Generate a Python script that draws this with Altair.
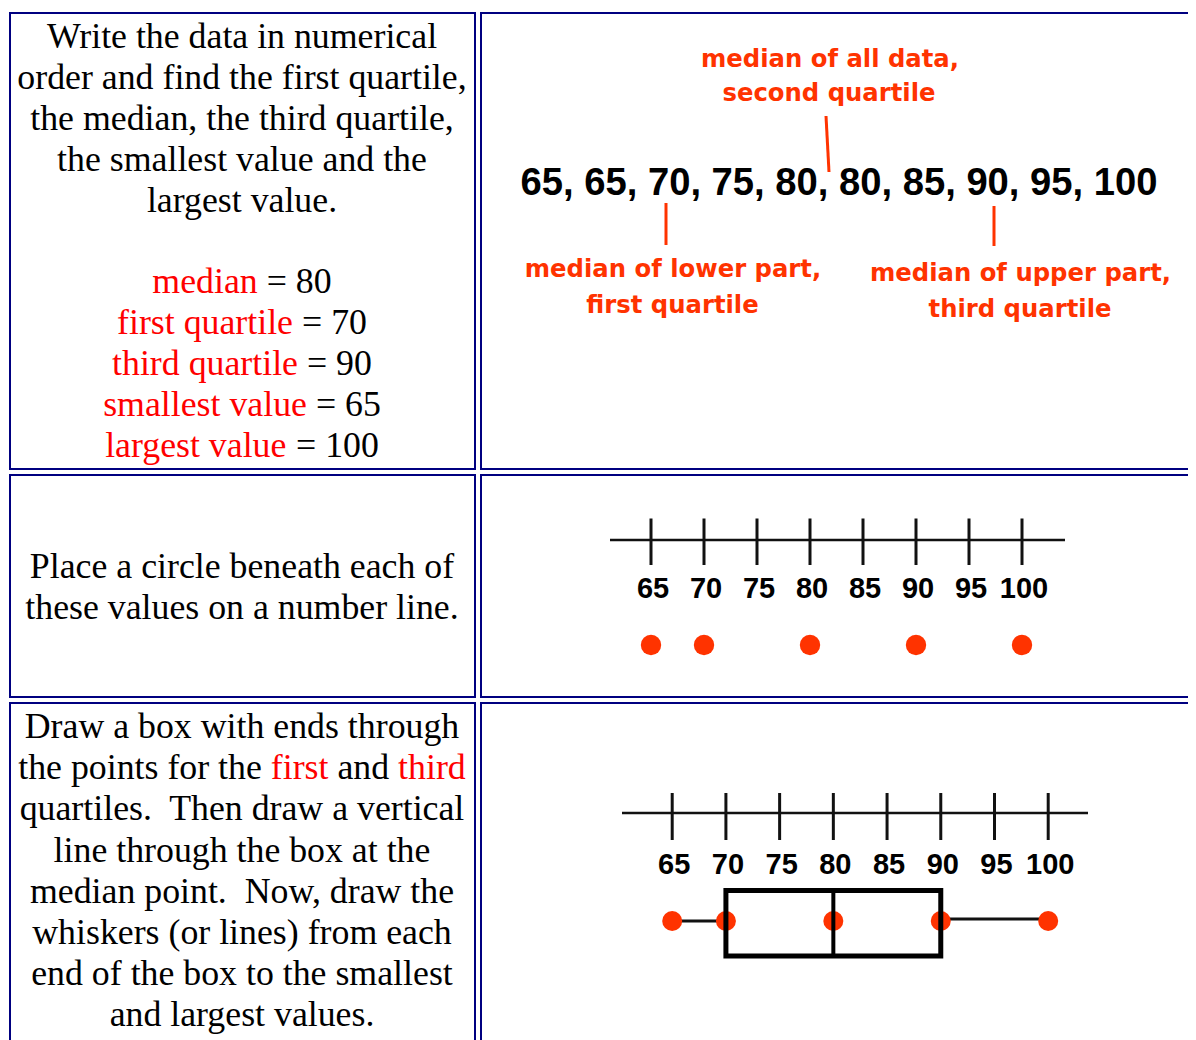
import altair as alt
import pandas as pd

# ---------------- data ----------------
values = [65, 65, 70, 75, 80, 80, 85, 90, 95, 100]
tick_values = [65, 70, 75, 80, 85, 90, 95, 100]
stat_names = ["median", "first quartile", "third quartile", "smallest value", "largest value"]
stat_values = [80, 70, 90, 65, 100]

intro_lines = [
    "Write the data in numerical",
    "order and find the first quartile,",
    "the median, the third quartile,",
    "the smallest value and the",
    "largest value.",
]
place_lines = ["Place a circle beneath each of", "these values on a number line."]
box_lines = [
    [("Draw a box with ends through", "#000000")],
    [("the points for the ", "#000000"), ("first", "#FF0000"), (" and ", "#000000"), ("third", "#FF0000")],
    [("quartiles.\u00a0 Then draw a vertical", "#000000")],
    [("line through the box at the", "#000000")],
    [("median point.\u00a0 Now, draw the", "#000000")],
    [("whiskers (or lines) from each", "#000000")],
    [("end of the box to the smallest", "#000000")],
    [("and largest values.", "#000000")],
]
annot_all = ["median of all data,", "second quartile"]
annot_lower = ["median of lower part,", "first quartile"]
annot_upper = ["median of upper part,", "third quartile"]

stat = dict(zip(stat_names, stat_values))

# ---------------- layout helpers ----------------
OFF = 8
W, H = 1180, 1032
SERIF = 35.8
CX = 242 - OFF

TIMES = {" ": 250, "\u00a0": 250, ",": 250, ".": 250, "=": 564, "(": 333, ")": 333,
         "D": 722, "N": 722, "T": 611, "W": 944, "P": 556}
TIMES.update({c: 500 for c in "0123456789"})
TIMES.update(dict(zip("abcdefghijklmnopqrstuvwxyz",
                      [444, 500, 444, 500, 444, 333, 500, 500, 278, 278, 500, 278, 778,
                       500, 500, 500, 500, 333, 389, 278, 500, 500, 722, 500, 500, 444])))


def tw(s, size=SERIF):
    return sum(TIMES.get(c, 500) for c in s) * size / 1000.0


def seg_rows(segments, y):
    full = "".join(t for t, _ in segments)
    x = CX - tw(full) / 2
    rows = []
    for t, c in segments:
        lead = len(t) - len(t.lstrip(" "))
        rows.append(dict(text=t.strip(" "), x=x + tw(" " * lead), y=y, color=c))
        x += tw(t)
    return rows


centered, segs = [], []
for i, line in enumerate(intro_lines):
    centered.append(dict(text=line, x=CX, y=48 + 41 * i - OFF, color="#000000"))
for i, name in enumerate(stat_names):
    segs += seg_rows([(name, "#FF0000"), (" = %d" % stat[name], "#000000")], 292.5 + 41.1 * i - OFF)
for i, line in enumerate(place_lines):
    centered.append(dict(text=line, x=CX, y=578 + 41 * i - OFF, color="#000000"))
for i, line in enumerate(box_lines):
    y = 738 + 41.2 * i - OFF
    if len(line) == 1:
        centered.append(dict(text=line[0][0], x=CX, y=y, color=line[0][1]))
    else:
        segs += seg_rows(line, y)

centered_df = pd.DataFrame(centered)
segs_df = pd.DataFrame(segs)

pix = dict(scale=None, axis=None)

# cell borders of the table
cells_df = pd.DataFrame({
    "x": [10, 481, 10, 481, 10, 481],
    "x2": [475, 1210, 475, 1210, 475, 1210],
    "y": [13, 13, 475, 475, 703, 703],
    "y2": [469, 469, 697, 697, 1060, 1060],
}) - OFF

cells = alt.Chart(cells_df).mark_rect(fillOpacity=0, stroke="#000080", strokeWidth=2).encode(
    x=alt.X("x:Q", **pix), x2="x2:Q", y=alt.Y("y:Q", **pix), y2="y2:Q")

serif_c = alt.Chart(centered_df).mark_text(font="Liberation Serif", fontSize=SERIF, align="center",
                                           baseline="alphabetic").encode(
    x=alt.X("x:Q", **pix), y=alt.Y("y:Q", **pix), text="text:N", color=alt.Color("color:N", scale=None))
serif_s = alt.Chart(segs_df).mark_text(font="Liberation Serif", fontSize=SERIF, align="left",
                                       baseline="alphabetic").encode(
    x=alt.X("x:Q", **pix), y=alt.Y("y:Q", **pix), text="text:N", color=alt.Color("color:N", scale=None))

# top-right panel
ann_df = pd.DataFrame([
    dict(text=annot_all[0], x=830, y=67), dict(text=annot_all[1], x=829, y=101),
    dict(text=annot_lower[0], x=673, y=277), dict(text=annot_lower[1], x=672.5, y=313),
    dict(text=annot_upper[0], x=1020.5, y=281), dict(text=annot_upper[1], x=1020, y=317),
])
ann_df[["x", "y"]] -= OFF
ann = alt.Chart(ann_df).mark_text(font="DejaVu Sans", fontWeight="bold", fontSize=24.3, color="#FF3300",
                                  align="center", baseline="alphabetic").encode(
    x=alt.X("x:Q", **pix), y=alt.Y("y:Q", **pix), text="text:N")

nums_df = pd.DataFrame({"text": [", ".join(str(v) for v in values)]})
nums = alt.Chart(nums_df).mark_text(font="Liberation Sans", fontWeight="bold", fontSize=38.2, color="#000000",
                                    align="center", baseline="alphabetic").encode(
    x=alt.value(839 - OFF), y=alt.value(195 - OFF), text="text:N")

pointers_df = pd.DataFrame({"x": [826, 666, 994], "x2": [829, 666, 994],
                            "y": [116, 203, 206], "y2": [172, 245, 246]}) - OFF
pointers = alt.Chart(pointers_df).mark_rule(color="#FF3300", strokeWidth=3).encode(
    x=alt.X("x:Q", **pix), x2="x2:Q", y=alt.Y("y:Q", **pix), y2="y2:Q")

# ---------------- number lines ----------------
ticks_df = pd.DataFrame({"tick": tick_values, "label": [str(t) for t in tick_values]})
range_df = pd.DataFrame({"lo": [min(tick_values)], "hi": [max(tick_values)]})
dots_df = pd.DataFrame({"value": [stat[n] for n in ["smallest value", "first quartile", "median",
                                                      "third quartile", "largest value"]]})
box_df = pd.DataFrame({"lo": [stat["smallest value"]], "q1": [stat["first quartile"]],
                       "med": [stat["median"]], "q3": [stat["third quartile"]],
                       "hi": [stat["largest value"]]})

DOM = [min(tick_values), max(tick_values)]


def scale(px0, px1):
    return alt.Scale(domain=DOM, range=[px0 - OFF, px1 - OFF], nice=False, zero=False)


def number_line(sc, line_y, tick_y0, tick_y1, label_y, over_l, over_r):
    line = alt.Chart(range_df).mark_rule(color="#111111", strokeWidth=2.5, xOffset=over_l,
                                         x2Offset=over_r).encode(
        x=alt.X("lo:Q", scale=sc, axis=None), x2="hi:Q", y=alt.value(line_y - OFF))
    ticks = alt.Chart(ticks_df).mark_rule(color="#111111", strokeWidth=3).encode(
        x=alt.X("tick:Q", scale=sc, axis=None), y=alt.value(tick_y0 - OFF), y2=alt.value(tick_y1 - OFF))
    labels = alt.Chart(ticks_df).mark_text(font="Liberation Sans", fontWeight="bold", fontSize=29,
                                           color="#000000", align="center", baseline="alphabetic",
                                           dx=2).encode(
        x=alt.X("tick:Q", scale=sc, axis=None), y=alt.value(label_y - OFF), text="label:N")
    return [line, ticks, labels]


SC2 = scale(651.0, 1022.0)
SC3 = scale(672.2, 1048.2)

row2 = number_line(SC2, 540, 518.5, 565, 598, -41, 43)
dots2 = alt.Chart(dots_df).mark_circle(size=415, color="#FF3300", opacity=1).encode(
    x=alt.X("value:Q", scale=SC2, axis=None), y=alt.value(645 - OFF))

row3 = number_line(SC3, 813, 793, 840, 874, -50.2, 39.8)
wl = alt.Chart(box_df).mark_rule(color="#111111", strokeWidth=3).encode(
    x=alt.X("lo:Q", scale=SC3, axis=None), x2="q1:Q", y=alt.value(921 - OFF))
wr = alt.Chart(box_df).mark_rule(color="#111111", strokeWidth=3).encode(
    x=alt.X("q3:Q", scale=SC3, axis=None), x2="hi:Q", y=alt.value(919 - OFF))
dots3 = alt.Chart(dots_df).mark_circle(size=400, color="#FF3300", opacity=1).encode(
    x=alt.X("value:Q", scale=SC3, axis=None), y=alt.value(921 - OFF))
box = alt.Chart(box_df).mark_rect(fillOpacity=0, stroke="#000000", strokeWidth=5).encode(
    x=alt.X("q1:Q", scale=SC3, axis=None), x2="q3:Q", y=alt.value(890.5 - OFF), y2=alt.value(956 - OFF))
med = alt.Chart(box_df).mark_rule(color="#000000", strokeWidth=4).encode(
    x=alt.X("med:Q", scale=SC3, axis=None), y=alt.value(893 - OFF), y2=alt.value(958 - OFF))

chart = alt.layer(
    cells, serif_c, serif_s, ann, nums, pointers,
    *row2, dots2,
    *row3, wl, wr, dots3, box, med,
).resolve_scale(x="independent").properties(
    width=W, height=H, autosize=alt.AutoSizeParams(type="none"), padding=0, background="white"
).configure_view(strokeWidth=0)

chart.save("out.html", embed_options={"renderer": "svg", "actions": False})
